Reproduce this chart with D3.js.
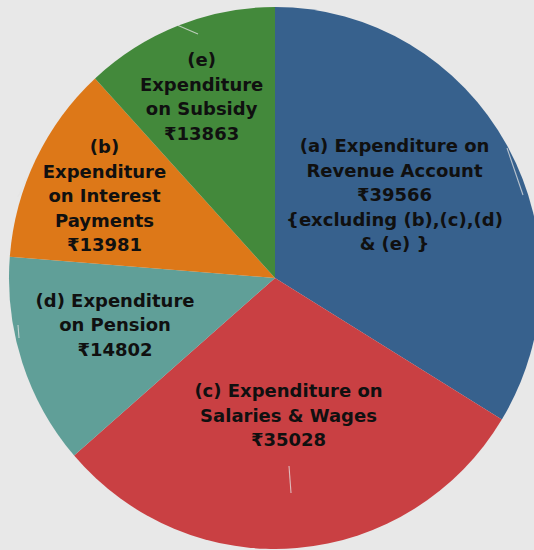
<!DOCTYPE html>
<html>
<head>
<meta charset="utf-8">
<script src="https://cdn.jsdelivr.net/npm/d3@7"></script>
<style>
  html, body { margin: 0; padding: 0; background: #e8e8e8; }
  svg { display: block; }
</style>
</head>
<body>
<svg id="chart" width="534" height="550"></svg>
<script>
// ---- data ----
const categories = ["(a) Revenue Account", "(c) Salaries & Wages", "(d) Pension", "(b) Interest Payments", "(e) Subsidy"];
const values = [39566, 35028, 14802, 13981, 13863];
const colors = ["#37618d", "#c94043", "#609f98", "#dd7818", "#43893b"];
const labelLines = [
  ["(a) Expenditure on", "Revenue Account", "₹39566", "{excluding (b),(c),(d)", "& (e) }"],
  ["(c) Expenditure on", "Salaries & Wages", "₹35028"],
  ["(d) Expenditure", "on Pension", "₹14802"],
  ["(b)", "Expenditure", "on Interest", "Payments", "₹13981"],
  ["(e)", "Expenditure", "on Subsidy", "₹13863"]
];
// label anchor offsets from pie centre (layout only)
const labelOffsets = [[119.5, -126], [13.5, 119], [-160, 28.5], [-170.5, -125], [-73.4, -211.6]];
// faint leftover leader strokes, offsets from pie centre (decoration only)
const leaderOffsets = [
  [[-98, -253], [-77, -244]],
  [[14, 188], [16, 215]],
  [[232, -130], [248, -83]],
  [[-257, -81], [-248, -101]],
  [[-257, 47], [-256, 60]]
];

// ---- layout ----
const W = 534, H = 550;
const cx = 275, cy = 278, rx = 266, ry = 271;
const svg = d3.select("#chart");
svg.append("rect").attr("width", W).attr("height", H).attr("fill", "#e8e8e8");

const data = values.map((v, i) => ({ name: categories[i], value: v, i }));
const pie = d3.pie().sort(null).value(d => d.value).startAngle(0).endAngle(2 * Math.PI);
const arc = d3.arc().innerRadius(0).outerRadius(rx);
const color = d3.scaleOrdinal().domain(categories).range(colors);

const g = svg.append("g").attr("transform", `translate(${cx},${cy}) scale(1,${ry / rx})`);
g.selectAll("path").data(pie(data)).join("path")
  .attr("d", arc)
  .attr("fill", d => color(d.data.name));

// ---- faint leader strokes ----
const ll = svg.append("g").attr("transform", `translate(${cx},${cy})`);
ll.selectAll("line").data(leaderOffsets).join("line")
  .attr("x1", d => d[0][0]).attr("y1", d => d[0][1])
  .attr("x2", d => d[1][0]).attr("y2", d => d[1][1])
  .attr("stroke", "#e4e4e4").attr("stroke-width", 1.1).attr("stroke-opacity", 0.75);

// ---- labels ----
const lh = 24.5;
const lg = svg.append("g").attr("transform", `translate(${cx},${cy})`);
data.forEach((d, i) => {
  const t = lg.append("text")
    .attr("x", labelOffsets[i][0])
    .attr("y", labelOffsets[i][1])
    .attr("text-anchor", "middle")
    .attr("font-family", "'DejaVu Sans', sans-serif")
    .attr("font-weight", "bold")
    .attr("font-size", "18px")
    .attr("fill", "#101010");
  labelLines[i].forEach((line, k) => {
    t.append("tspan")
      .attr("x", labelOffsets[i][0])
      .attr("y", labelOffsets[i][1] + k * lh)
      .text(line);
  });
});
</script>
</body>
</html>
